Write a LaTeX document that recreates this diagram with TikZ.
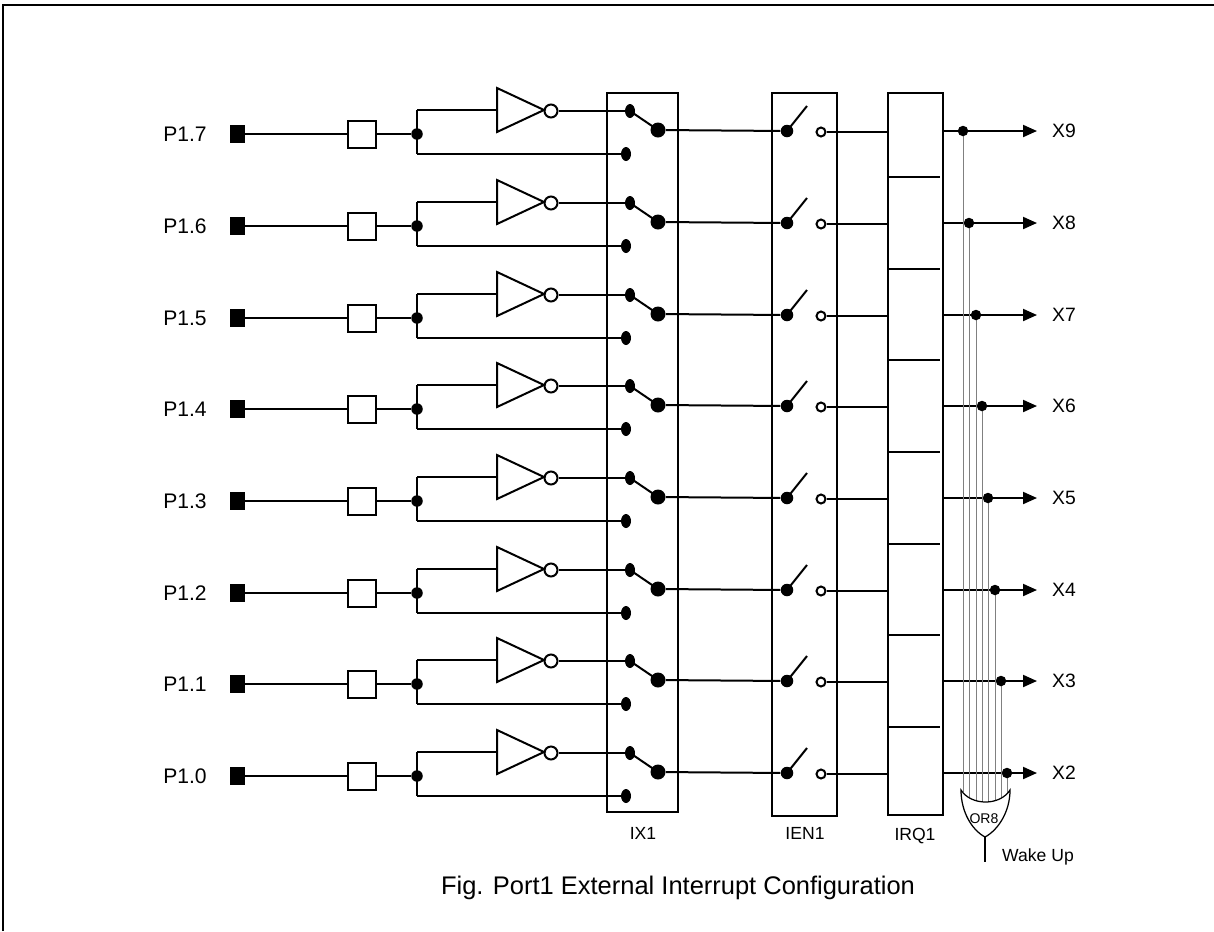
\documentclass[tikz,border=0pt]{standalone}
\usepackage{fontspec}
\setmainfont{Liberation Sans}
\usetikzlibrary{arrows.meta}
\usetikzlibrary{shapes.geometric}

\begin{document}
\begin{tikzpicture} [
        x=0.02cm, y=-0.02cm,
        wire/.style={line width=0.04cm},
        pad/.style={fill=black, rectangle, inner sep=0pt, minimum width=0.3cm, minimum height=0.36cm},
        bufbox/.style={draw, line width=0.04cm, rectangle, inner sep=0pt, minimum width=0.56cm, minimum height=0.54cm},
        regbox/.style={draw, line width=0.04cm, rectangle, inner sep=0pt},
        jdot/.style={circle, fill=black, inner sep=0pt, minimum size=0.23cm},
        pindot/.style={ellipse, fill=black, inner sep=0pt, minimum width=0.2cm, minimum height=0.28cm},
        bigdot/.style={circle, fill=black, inner sep=0pt, minimum size=0.3cm},
        bubble/.style={circle, draw, fill=white, line width=0.04cm, inner sep=0pt, minimum size=0.26cm},
        opendot/.style={circle, draw, fill=white, line width=0.04cm, inner sep=0pt, minimum size=0.18cm},
        plabel/.style={font=\fontsize{12}{14}\selectfont},
        xlabel/.style={font=\fontsize{11}{13}\selectfont, anchor=west},
        blabel/.style={font=\fontsize{10}{12}\selectfont},
        orwire/.style={gray, line width=0.02cm},
        outarrow/.style={line width=0.04cm, -{Triangle[length=0.28cm, width=0.24cm]}} ]
    \useasboundingbox (0,0) rectangle (1214,931);
    \draw[line width=0.05cm] (3,931) -- (3,5) -- (1214,5);

    % the three register columns
    \node[regbox, minimum width=1.42cm, minimum height=14.38cm] (ix) at (642.5,452.5) {};
    \node[regbox, minimum width=1.3cm, minimum height=14.46cm] (ien) at (804.5,454.5) {};
    \node[regbox, minimum width=1.1cm, minimum height=14.44cm] (irq) at (915.5,454) {};
    \node[blabel] (ixlab) at (643,833) {IX1};
    \node[blabel] (ienlab) at (805,833) {IEN1};
    \node[blabel] (irqlab) at (915,836) {IRQ1};
    \foreach \i in {0,...,6} {
        \pgfmathsetmacro\ym{round(776-91.7*\i-45.85-3)}
        \draw[wire] (888,\ym) -- (940,\ym);
    }

    % one row per pin
    \foreach \i in {0,...,7} {
        \pgfmathsetmacro\y{round(776-91.7*\i)}
        \pgfmathtruncatemacro\xn{\i+2}
        \pgfmathsetmacro\tx{round(963+6.3*(7-\i))}
        \pgfmathsetmacro\ty{790+12*(1-((\tx-985.5)/24.5)^2)}
        \node[plabel] (lab\i) at (185,\y) {P1.\i};
        \node[pad] (pad\i) at (237.5,\y) {};
        \node[bufbox] (buf\i) at (362,\y) {};
        \node[jdot] (split\i) at (417,\y) {};
        \coordinate (up\i) at (417,\y-24);
        \coordinate (dn\i) at (417,\y+20);
        \coordinate (inv\i) at (497,\y-24);
        \node[bubble] (bub\i) at (551,\y-23) {};
        \node[pindot] (sa\i) at (630,\y-23) {};
        \node[pindot] (sb\i) at (626,\y+20) {};
        \node[bigdot] (sc\i) at (658,\y-4) {};
        \node[jdot, minimum size=0.25cm] (ea\i) at (787,\y-3) {};
        \coordinate (eb\i) at (807,\y-28);
        \node[opendot] (ec\i) at (821,\y-2) {};
        \coordinate (qin\i) at (888,\y-2);
        \coordinate (qout\i) at (943,\y-3);
        \coordinate (tip\i) at (1037,\y-3);
        \coordinate (gin\i) at (\tx,\ty);
        \draw[wire] (pad\i) -- (buf\i) -- (split\i);
        \draw[wire] (up\i) -- (dn\i);
        \draw[wire] (up\i) -- (inv\i);
        \draw[wire] (497,\y-46) -- ++(0,44) -- ++(47,-22) -- cycle;
        \draw[wire] (bub\i) -- (sa\i);
        \draw[wire] (dn\i) -- (sb\i);
        \draw[wire] (sa\i.center) -- (sc\i.center);
        \draw[wire] (sc\i) -- (ea\i);
        \draw[wire] (ea\i.center) -- (eb\i);
        \draw[wire] (ec\i) -- (qin\i);
        \draw[outarrow] (qout\i) -- (tip\i);
        \draw[orwire] (\tx,\y-3) -- (gin\i);
        \node[jdot, minimum size=0.21cm] (tap\i) at (\tx,\y-3) {};
        \node[xlabel] (x\i) at (1046,\y-3) {X\xn};
    }

    % wake-up gate
    \coordinate (gtip) at (985,837);
    \draw[line width=0.025cm] (961,790) .. controls (961,812) and (972,830) .. (gtip)
        .. controls (998,830) and (1010,812) .. (1010,790)
        .. controls (1000,806) and (971,806) .. (961,790) -- cycle;
    \node[font=\fontsize{8}{10}\selectfont] (or) at (984,819) {OR8};
    \coordinate (wake) at (985,862);
    \draw[line width=0.025cm] (gtip) -- (wake);
    \node[blabel, anchor=west] (wk) at (996,857) {Wake Up};

    \node[font=\fontsize{14.5}{17}\selectfont] (cap) at (678,888) {Fig. Port1 External Interrupt Configuration};
\end{tikzpicture}
\end{document}
